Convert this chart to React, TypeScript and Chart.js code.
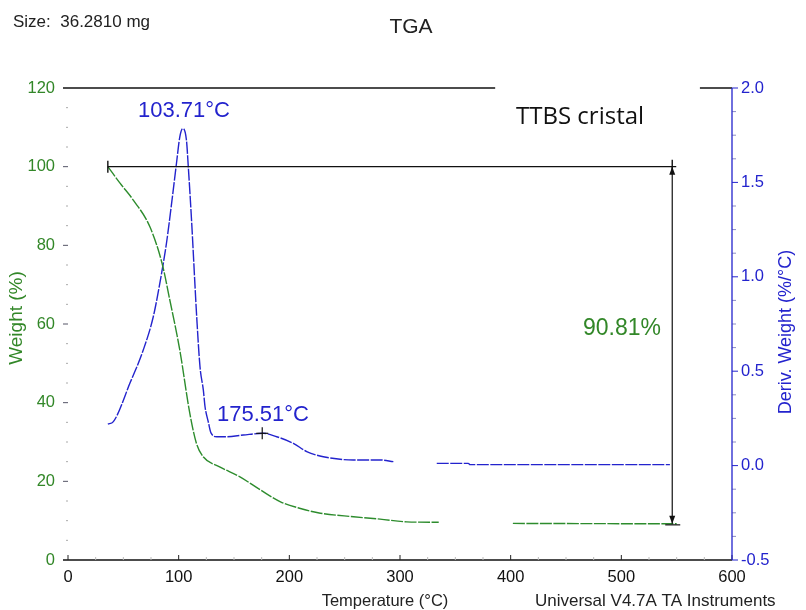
import React, { useEffect, useRef } from "react";
import { Chart, registerables } from "chart.js";

Chart.register(...registerables);

// Weight curve (green, left axis) — null marks the break in the trace
const weightTemp = [36, 47, 59, 74, 85, 92, 101, 110, 116, 122, 137, 155, 174, 192, 210, 228, 258, 282, 306, 335, 368, 402, 550];
const weightPct = [100, 95.8, 91.5, 84.7, 75.4, 66.1, 53.4, 37.4, 29.7, 26.3, 23.7, 21.2, 17.8, 14.8, 13.1, 11.9, 11.0, 10.4, 9.7, 9.6, null, 9.3, 9.2];

// Derivative weight curve (blue, right axis)
const derivTemp = [36, 41, 56, 68, 77, 83, 89, 94, 98, 101, 103.7, 107, 108.7, 111.8, 114.8, 116.3, 119.3, 122.3, 123.8, 126.8, 129.2, 134.4, 143.4, 158.4, 176.5, 188.6, 203.6, 215.7, 230.7, 257.8, 281.9, 294, 314, 333.2, 361.7, 363.3, 543.9];
const derivVal = [0.22, 0.233, 0.437, 0.612, 0.787, 0.967, 1.179, 1.407, 1.6, 1.74, 1.785, 1.725, 1.583, 1.283, 0.948, 0.787, 0.522, 0.4, 0.313, 0.231, 0.173, 0.153, 0.153, 0.162, 0.171, 0.153, 0.118, 0.074, 0.047, 0.03, 0.03, 0.021, null, 0.012, 0.012, 0.005, 0.005];

// Axis ranges / ticks
const xRange = [0, 600];
const xMajor = [0, 100, 200, 300, 400, 500, 600];
const weightRange = [0, 120];
const weightMajor = [0, 20, 40, 60, 80, 100, 120];
const derivRange = [-0.5, 2.0];
const derivMajor = [-0.5, 0, 0.5, 1.0, 1.5, 2.0];

// Annotations
const peakTemp = 103.71;
const shoulderTemp = 175.51;
const shoulderDeriv = 0.171;
const stepStartTemp = 36;
const stepEndTemp = 546;
const stepTop = 100;
const stepBottom = 9.19;
const stepLabel = "90.81%";
const topLineBreak = [386, 571];

const GREEN = "rgb(45,140,45)";
const GREEN_TXT = "rgb(50,135,40)";
const BLUE = "rgb(35,35,205)";
const FONT = '"Liberation Sans", Arial, sans-serif';

const overlay = {
  id: "overlay",
  afterDraw(chart: any) {
    const { ctx, chartArea } = chart;
    const x = chart.scales.x;
    const y = chart.scales.y;
    const y1 = chart.scales.y1;
    const L = chartArea.left, R = chartArea.right, T = chartArea.top, B = chartArea.bottom;
    const seg = (x0: number, y0: number, x1: number, y1p: number) => {
      ctx.beginPath();
      ctx.moveTo(x0, y0);
      ctx.lineTo(x1, y1p);
      ctx.stroke();
    };
    ctx.save();
    ctx.lineCap = "butt";

    // top frame line (with break)
    ctx.strokeStyle = "#111";
    ctx.lineWidth = 1.5;
    seg(L - 5, T, x.getPixelForValue(topLineBreak[0]), T);
    seg(x.getPixelForValue(topLineBreak[1]), T, R, T);
    // bottom axis
    seg(L - 5, B, R, B);
    // x ticks
    ctx.lineWidth = 1;
    for (let v = xRange[0]; v <= xRange[1]; v += 25) {
      const px = x.getPixelForValue(v);
      const major = v % 100 === 0;
      ctx.strokeStyle = major ? "#222" : "#bbb";
      seg(px, B, px, B - (major ? 5 : 3));
    }
    // left ticks
    for (let v = weightRange[0]; v <= weightRange[1]; v += 5) {
      const py = y.getPixelForValue(v);
      const major = v % 20 === 0;
      if (v === 0 || v === 120) continue;
      ctx.strokeStyle = major ? "#556" : "#aaa";
      seg(L - (major ? 5 : 2), py, L, py);
    }
    // right axis line + ticks
    ctx.strokeStyle = BLUE;
    ctx.lineWidth = 1.3;
    seg(R, T, R, B);
    ctx.lineWidth = 1;
    for (let i = 0; i <= 20; i++) {
      const v = derivRange[0] + i * 0.125;
      const py = y1.getPixelForValue(v);
      const major = i % 4 === 0;
      ctx.strokeStyle = major ? BLUE : "rgba(60,60,160,0.6)";
      seg(R, py, R + (major ? 6 : 4), py);
    }

    // step annotation
    ctx.strokeStyle = "#111";
    ctx.lineWidth = 1.4;
    const hx0 = x.getPixelForValue(stepStartTemp);
    const hx1 = x.getPixelForValue(stepEndTemp);
    const hy = y.getPixelForValue(stepTop);
    const by = y.getPixelForValue(stepBottom);
    seg(hx0, hy, hx1 + 4, hy);
    seg(hx0, hy - 6, hx0, hy + 6);
    seg(hx1, hy - 7, hx1, hy + 7);
    ctx.lineWidth = 1.2;
    seg(hx1, hy, hx1, by);
    seg(hx1 - 7, by + 1, hx1 + 8, by + 1);
    ctx.fillStyle = "#111";
    ctx.beginPath();
    ctx.moveTo(hx1, by);
    ctx.lineTo(hx1 - 3, by - 8);
    ctx.lineTo(hx1 + 3, by - 8);
    ctx.closePath();
    ctx.fill();
    ctx.beginPath();
    ctx.moveTo(hx1, hy);
    ctx.lineTo(hx1 - 3, hy + 8);
    ctx.lineTo(hx1 + 3, hy + 8);
    ctx.closePath();
    ctx.fill();

    // shoulder crosshair
    const cx = x.getPixelForValue(shoulderTemp);
    const cy = y1.getPixelForValue(shoulderDeriv);
    ctx.lineWidth = 1.2;
    seg(cx - 6, cy, cx + 6, cy);
    seg(cx, cy - 6, cx, cy + 6);

    // texts
    ctx.textBaseline = "alphabetic";
    ctx.fillStyle = "#222";
    ctx.textAlign = "left";
    ctx.font = `17px ${FONT}`;
    ctx.fillText("Size:  36.2810 mg", 13, 27);
    ctx.textAlign = "center";
    ctx.font = `21px ${FONT}`;
    ctx.fillText("TGA", 411, 33);

    ctx.fillStyle = BLUE;
    ctx.font = `22px ${FONT}`;
    ctx.textAlign = "center";
    ctx.fillText(`${peakTemp.toFixed(2)}°C`, 184, 117);
    ctx.fillText(`${shoulderTemp.toFixed(2)}°C`, 263, 421);

    ctx.fillStyle = GREEN_TXT;
    ctx.font = `23px ${FONT}`;
    ctx.fillText(stepLabel, 622, 335);

    ctx.fillStyle = "#111";
    ctx.font = `24px "Open Sans", sans-serif`;
    ctx.textAlign = "left";
    ctx.fillText("TTBS cristal", 516, 124);

    ctx.fillStyle = "#222";
    ctx.font = `16.5px ${FONT}`;
    ctx.textAlign = "center";
    ctx.fillText("Temperature (°C)", 385, 606);
    ctx.textAlign = "left";
    ctx.font = `17px ${FONT}`;
    ctx.fillText("Universal V4.7A TA Instruments", 535, 606);

    // axis titles
    ctx.save();
    ctx.translate(22, 318);
    ctx.rotate(-Math.PI / 2);
    ctx.textAlign = "center";
    ctx.fillStyle = GREEN_TXT;
    ctx.font = `19px ${FONT}`;
    ctx.fillText("Weight (%)", 0, 0);
    ctx.restore();
    ctx.save();
    ctx.translate(791, 332);
    ctx.rotate(-Math.PI / 2);
    ctx.textAlign = "center";
    ctx.fillStyle = BLUE;
    ctx.font = `18px ${FONT}`;
    ctx.fillText("Deriv. Weight (%/°C)", 0, 0);
    ctx.restore();

    ctx.restore();
  },
};

export default function App() {
  const ref = useRef<HTMLCanvasElement>(null);
  useEffect(() => {
    document.body.style.margin = "0";
    const canvas = ref.current!;
    const chart = new Chart(canvas, {
      type: "line",
      data: {
        datasets: [
          {
            label: "Weight",
            data: weightTemp.map((t, i) => ({ x: t, y: weightPct[i] })) as any,
            yAxisID: "y",
            borderColor: GREEN,
            borderWidth: 1.4,
            borderDash: [12, 1.5],
            pointRadius: 0,
            spanGaps: false,
            cubicInterpolationMode: "monotone",
            fill: false,
          },
          {
            label: "Deriv. Weight",
            data: derivTemp.map((t, i) => ({ x: t, y: derivVal[i] })) as any,
            yAxisID: "y1",
            borderColor: BLUE,
            borderWidth: 1.4,
            borderDash: [12, 1.5],
            pointRadius: 0,
            spanGaps: false,
            cubicInterpolationMode: "monotone",
            fill: false,
          },
        ],
      },
      options: {
        animation: false,
        responsive: false,
        layout: { padding: { top: 88, left: 0, right: 0, bottom: 0 } },
        plugins: { legend: { display: false }, tooltip: { enabled: false }, title: { display: false } },
        scales: {
          x: {
            type: "linear",
            position: "bottom",
            min: xRange[0],
            max: xRange[1],
            afterBuildTicks: (s: any) => { s.ticks = xMajor.map((v) => ({ value: v })); },
            afterFit: (s: any) => { s.height = 50; },
            grid: { display: false, drawTicks: false },
            border: { display: false },
            ticks: { color: "#111", padding: 8, font: { size: 16.5, family: FONT }, maxRotation: 0 },
          },
          y: {
            type: "linear",
            position: "left",
            min: weightRange[0],
            max: weightRange[1],
            afterBuildTicks: (s: any) => { s.ticks = weightMajor.map((v) => ({ value: v })); },
            afterFit: (s: any) => { s.width = 68; },
            grid: { display: false, drawTicks: false },
            border: { display: false },
            ticks: { color: GREEN_TXT, padding: 13, font: { size: 16.5, family: FONT } },
          },
          y1: {
            type: "linear",
            position: "right",
            min: derivRange[0],
            max: derivRange[1],
            afterBuildTicks: (s: any) => { s.ticks = derivMajor.map((v) => ({ value: v })); },
            afterFit: (s: any) => { s.width = 74; },
            grid: { display: false, drawTicks: false },
            border: { display: false },
            ticks: {
              color: BLUE,
              padding: 9,
              font: { size: 16.5, family: FONT },
              callback: (v: any) => Number(v).toFixed(1),
            },
          },
        },
      },
      plugins: [overlay],
    });
    return () => chart.destroy();
  }, []);
  return (
    <div style={{ width: 806, height: 610, background: "#fff" }}>
      <canvas ref={ref} width={806} height={610} style={{ display: "block" }} />
    </div>
  );
}
